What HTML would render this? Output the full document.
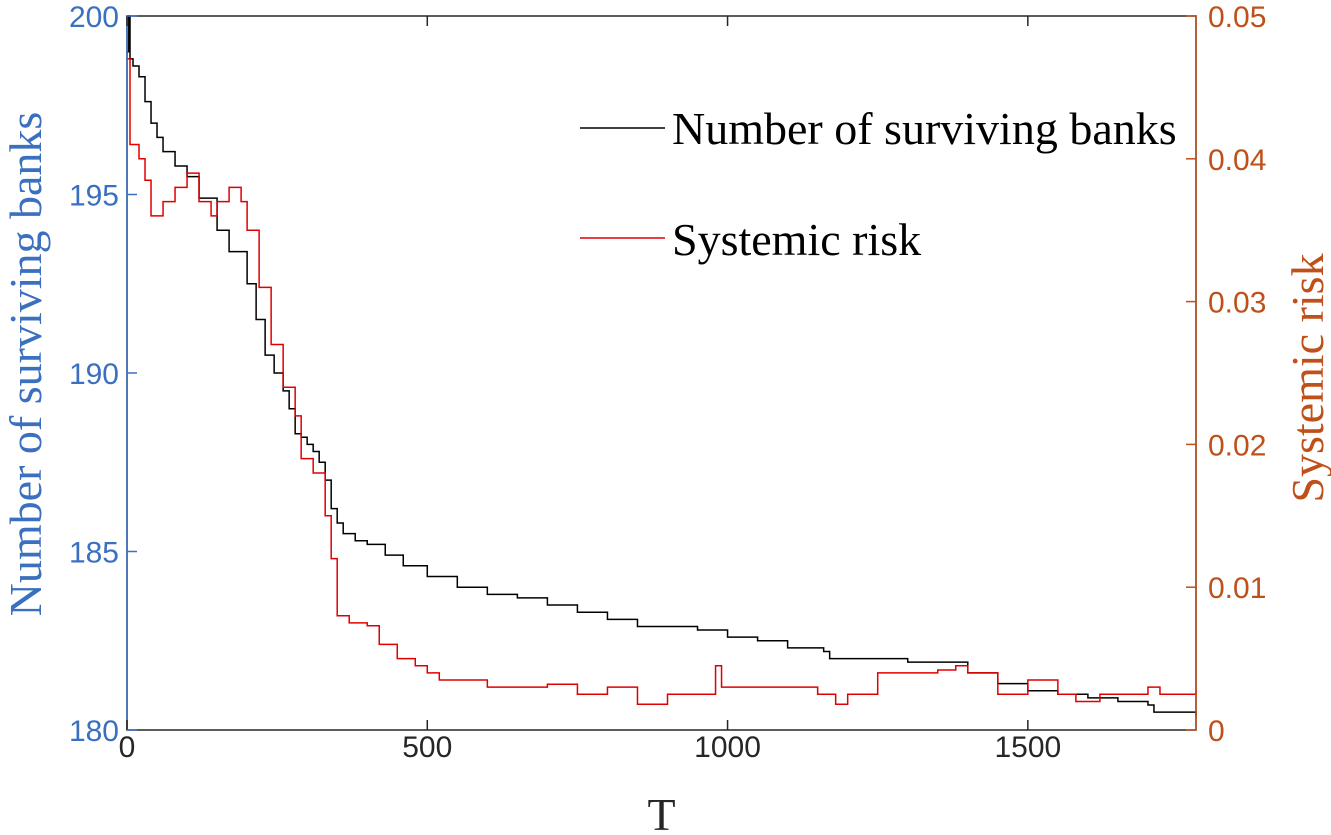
<!DOCTYPE html>
<html><head><meta charset="utf-8"><style>
body{margin:0;background:#fff;width:1331px;height:835px;overflow:hidden}
svg{display:block}
.tk{font-family:"Liberation Sans",sans-serif;font-size:30px}
.ttl{font-family:"Liberation Serif",serif;font-size:46px}
</style></head><body>
<svg id="chart" width="1331" height="835">
<g id="plot"></g>
</svg>
<script>
const tValsBanks=[0,3,5,10,20,30,40,50,60,80,100,120,150,170,200,215,230,245,260,270,280,290,300,310,320,330,340,350,360,380,400,430,460,500,550,600,650,700,750,800,850,950,1000,1050,1100,1160,1170,1250,1300,1400,1450,1500,1550,1600,1650,1700,1710,1780];
const banks=[199,200,198.8,198.6,198.3,197.6,197,196.6,196.2,195.8,195.5,194.9,194,193.4,192.5,191.5,190.5,190,189.5,189,188.3,188.2,188,187.8,187.5,187,186.2,185.8,185.5,185.3,185.2,184.9,184.6,184.3,184,183.8,183.7,183.5,183.3,183.1,182.9,182.8,182.6,182.5,182.3,182.2,182,182,181.9,181.6,181.3,181.1,181.0,180.9,180.8,180.7,180.5,180.4];
const tValsRisk=[0,5,20,30,40,60,80,100,120,140,150,170,190,200,220,240,260,280,290,310,330,340,350,370,400,420,450,480,500,520,600,700,750,800,850,900,980,990,1100,1150,1180,1200,1250,1350,1380,1400,1450,1500,1550,1580,1620,1700,1720,1780];
const risk=[0.047,0.041,0.040,0.0385,0.036,0.037,0.038,0.039,0.037,0.036,0.037,0.038,0.037,0.035,0.031,0.027,0.024,0.022,0.019,0.018,0.015,0.012,0.008,0.0075,0.0073,0.006,0.005,0.0045,0.004,0.0035,0.003,0.0032,0.0025,0.003,0.0018,0.0025,0.0045,0.003,0.003,0.0025,0.0018,0.0025,0.004,0.0042,0.0045,0.004,0.0025,0.0035,0.0025,0.002,0.0025,0.003,0.0025,0.0028];
const xTicks=[0,500,1000,1500];
const yLTicks=[180,185,190,195,200];
const yRTicks=[0,0.01,0.02,0.03,0.04,0.05];
const yRLabels=["0","0.01","0.02","0.03","0.04","0.05"];

const L=127,R=1196,T=16,B=730,XMAX=1780;
const xs=v=>L+(v/XMAX)*(R-L);
const yl=v=>B-(v-180)/20*(B-T);
const yr=v=>B-v/0.05*(B-T);
const NS="http://www.w3.org/2000/svg";
const g=document.getElementById('plot');
function mk(t,a,txt){const e=document.createElementNS(NS,t);for(const k in a)e.setAttribute(k,a[k]);if(txt!==undefined)e.textContent=txt;g.appendChild(e);return e;}

function stair(xa,ya,fy){let d='';for(let i=0;i<xa.length;i++){const x=xs(xa[i]),y=fy(ya[i]);if(i===0)d+='M'+x+' '+y;else d+='H'+x+'V'+y;}return d;}
const box=mk('rect',{x:L,y:T,width:R-L,height:B-T,fill:'none',stroke:'#262626','stroke-width':1.5});


const lb=mk('path',{d:stair(tValsBanks,banks,yl),fill:'none',stroke:'#000','stroke-width':1.5});


const lr=mk('path',{d:stair(tValsRisk,risk,yr),fill:'none',stroke:'#e00000','stroke-width':1.5});


const al=mk('line',{x1:L,y1:T,x2:L,y2:B,stroke:'#3b6fbf','stroke-width':1.5});


const ar=mk('line',{x1:R,y1:T,x2:R,y2:B,stroke:'#c0501a','stroke-width':1.5});


xTicks.forEach(v=>{const x=xs(v);
 mk('line',{x1:x,y1:B,x2:x,y2:B-10,stroke:'#262626','stroke-width':1.5});
 mk('line',{x1:x,y1:T,x2:x,y2:T+10,stroke:'#262626','stroke-width':1.5});
 const t=mk('text',{x:x,y:B+27,'text-anchor':'middle',class:'tk',fill:'#262626'},String(v));
 
 });
yLTicks.forEach(v=>{const y=yl(v);
 mk('line',{x1:L,y1:y,x2:L+10,y2:y,stroke:'#3b6fbf','stroke-width':1.5});
 const t=mk('text',{x:L-8,y:y+11,'text-anchor':'end',class:'tk',fill:'#3b6fbf'},String(v));
 
 });
yRTicks.forEach((v,i)=>{const y=yr(v);
 mk('line',{x1:R,y1:y,x2:R-10,y2:y,stroke:'#c0501a','stroke-width':1.5});
 const t=mk('text',{x:R+12,y:y+11,'text-anchor':'start',class:'tk',fill:'#c0501a'},yRLabels[i]);
 
 });
const xt=mk('text',{x:(L+R)/2,y:830,'text-anchor':'middle',class:'ttl',fill:'#262626'},'T');


const ylt=mk('text',{x:0,y:0,transform:'translate(41,364) rotate(-90)','text-anchor':'middle',class:'ttl',fill:'#3b6fbf'},'Number of surviving banks');


const yrt=mk('text',{x:0,y:0,transform:'translate(1323,378) rotate(-90)','text-anchor':'middle',class:'ttl',fill:'#c0501a'},'Systemic risk');


const l1=mk('line',{x1:580,y1:128,x2:665,y2:128,stroke:'#000','stroke-width':1.5});


const t1=mk('text',{x:672,y:144,class:'ttl',fill:'#000','font-size':'48'},'Number of surviving banks');


const l2=mk('line',{x1:580,y1:238,x2:665,y2:238,stroke:'#e00000','stroke-width':1.5});


const t2=mk('text',{x:672,y:255,class:'ttl',fill:'#000','font-size':'48'},'Systemic risk');


</script>
</body></html>
